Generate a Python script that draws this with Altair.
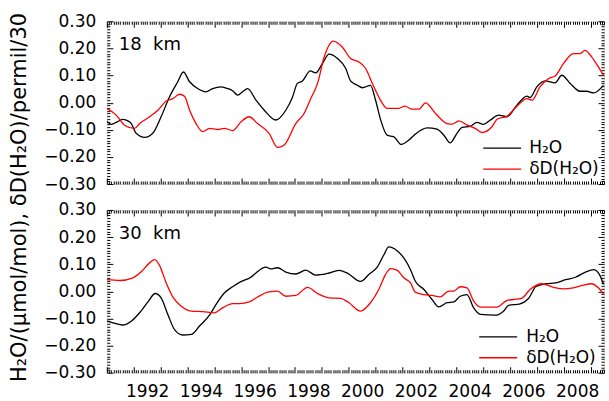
import altair as alt
import pandas as pd

# ---------------- data ----------------
# 18 km panel
yr18_h2o = [1990.50, 1990.67, 1990.90, 1991.10, 1991.30, 1991.41, 1991.59, 1991.91, 1992.21, 1992.52,
            1992.83, 1993.14, 1993.35, 1993.58, 1993.88, 1994.19, 1994.44, 1994.75, 1995.00, 1995.18,
            1995.37, 1995.55, 1995.74, 1996.05, 1996.36, 1996.79, 1997.16, 1997.41, 1997.59, 1997.78,
            1998.07, 1998.27, 1998.52, 1998.77, 1999.08, 1999.39, 1999.57, 1999.82, 2000.01, 2000.31,
            2000.50, 2000.69, 2000.93, 2001.18, 2001.46, 2001.74, 2001.98, 2002.42, 2002.79, 2003.04,
            2003.28, 2003.53, 2003.72, 2004.02, 2004.27, 2004.52, 2004.77, 2005.08, 2005.39, 2005.76,
            2006.13, 2006.25, 2006.50, 2006.81, 2007.18, 2007.43, 2007.74, 2008.11, 2008.36, 2008.61,
            2008.98]
h2o_18 = [-0.068, -0.080, -0.070, -0.062, -0.068, -0.077, -0.113, -0.128, -0.113, -0.052,
          0.021, 0.077, 0.113, 0.077, 0.052, 0.040, 0.052, 0.058, 0.052, 0.044,
          0.028, 0.040, 0.052, 0.009, -0.028, -0.064, -0.028, 0.021, 0.071, 0.080,
          0.117, 0.110, 0.144, 0.179, 0.163, 0.126, 0.080, 0.064, 0.055, 0.064,
          0.009, -0.064, -0.120, -0.126, -0.154, -0.138, -0.116, -0.093, -0.098, -0.120,
          -0.148, -0.113, -0.091, -0.087, -0.073, -0.080, -0.064, -0.046, -0.052, -0.009,
          0.024, 0.019, 0.058, 0.080, 0.073, 0.101, 0.071, 0.042, 0.042, 0.036,
          0.064]
yr18_dd = [1990.50, 1990.85, 1991.16, 1991.53, 1991.72, 1992.09, 1992.40, 1992.71, 1992.96, 1993.20,
           1993.39, 1993.58, 1993.82, 1994.07, 1994.32, 1994.63, 1994.87, 1995.18, 1995.49, 1995.80,
           1996.11, 1996.54, 1996.85, 1997.10, 1997.53, 1997.84, 1998.09, 1998.34, 1998.59, 1998.93,
           1999.26, 1999.57, 1999.88, 2000.13, 2000.38, 2000.62, 2000.93, 2001.37, 2001.59, 2001.86,
           2002.11, 2002.36, 2002.73, 2003.16, 2003.35, 2003.60, 2003.91, 2004.21, 2004.46, 2004.83,
           2005.02, 2005.39, 2005.76, 2006.13, 2006.32, 2006.62, 2006.94, 2007.18, 2007.49, 2007.86,
           2008.11, 2008.29, 2008.54, 2008.79, 2008.98]
dd_18 = [-0.021, -0.046, -0.083, -0.095, -0.077, -0.052, -0.028, 0.006, 0.015, 0.031,
         0.024, -0.028, -0.077, -0.107, -0.095, -0.099, -0.095, -0.103, -0.071, -0.052,
         -0.077, -0.113, -0.165, -0.156, -0.077, -0.040, 0.015, 0.071, 0.169, 0.227,
         0.205, 0.163, 0.150, 0.126, 0.071, 0.021, -0.021, -0.021, -0.013, -0.024,
         -0.024, -0.001, -0.040, -0.077, -0.079, -0.067, -0.083, -0.095, -0.110, -0.089,
         -0.061, -0.050, -0.013, 0.015, 0.009, 0.058, 0.089, 0.098, 0.144, 0.181,
         0.181, 0.193, 0.169, 0.132, 0.101]

# 30 km panel
yr30_h2o = [1990.50, 1990.73, 1991.10, 1991.41, 1991.72, 1992.03, 1992.30, 1992.52, 1992.77, 1993.02,
            1993.33, 1993.64, 1993.95, 1994.32, 1994.56, 1994.87, 1995.18, 1995.49, 1995.86, 1996.05,
            1996.42, 1996.60, 1996.85, 1997.16, 1997.53, 1997.90, 1998.27, 1998.71, 1999.14, 1999.45,
            1999.94, 2000.25, 2000.56, 2000.81, 2000.99, 2001.30, 2001.55, 2001.80, 2001.98, 2002.30,
            2002.60, 2002.85, 2003.16, 2003.41, 2003.65, 2003.90, 2004.15, 2004.40, 2004.95, 2005.26,
            2005.45, 2005.88, 2006.21, 2006.46, 2006.83, 2007.20, 2007.57, 2007.94, 2008.31, 2008.62,
            2008.86, 2008.98]
h2o_30 = [-0.110, -0.116, -0.124, -0.110, -0.079, -0.039, -0.008, -0.024, -0.085, -0.141,
          -0.161, -0.159, -0.128, -0.088, -0.049, -0.006, 0.017, 0.036, 0.052, 0.068,
          0.089, 0.083, 0.087, 0.071, 0.064, 0.078, 0.060, 0.066, 0.077, 0.067,
          0.037, 0.062, 0.089, 0.135, 0.164, 0.150, 0.123, 0.080, 0.037, 0.007,
          -0.030, -0.057, -0.042, -0.039, -0.018, -0.012, -0.061, -0.085, -0.088, -0.073,
          -0.052, -0.046, -0.024, 0.017, 0.028, 0.031, 0.043, 0.052, 0.071, 0.080,
          0.056, 0.025]
yr30_dd = [1990.50, 1990.98, 1991.47, 1991.78, 1992.09, 1992.28, 1992.46, 1992.71, 1992.96, 1993.26,
           1993.64, 1994.07, 1994.50, 1994.81, 1995.18, 1995.43, 1995.80, 1996.11, 1996.48, 1996.85,
           1997.16, 1997.53, 1997.97, 1998.34, 1998.77, 1999.20, 1999.51, 1999.94, 2000.31, 2000.62,
           2000.87, 2001.06, 2001.30, 2001.55, 2001.80, 2001.98, 2002.30, 2002.60, 2002.91, 2003.22,
           2003.41, 2003.65, 2003.90, 2004.15, 2004.40, 2004.64, 2005.01, 2005.38, 2005.63, 2005.93,
           2006.25, 2006.68, 2007.12, 2007.49, 2007.86, 2008.23, 2008.54, 2008.79, 2008.98]
dd_30 = [0.043, 0.040, 0.050, 0.072, 0.105, 0.117, 0.096, 0.031, -0.021, -0.054,
         -0.073, -0.075, -0.079, -0.061, -0.045, -0.045, -0.039, -0.021, -0.003, 0.001,
         -0.018, -0.015, 0.015, -0.008, -0.024, -0.026, -0.042, -0.073, -0.042, 0.007,
         0.062, 0.084, 0.078, 0.050, 0.031, -0.003, -0.012, -0.015, -0.020, 0.001,
         0.001, 0.017, 0.013, -0.036, -0.058, -0.058, -0.058, -0.034, -0.030, -0.026,
         0.007, 0.028, 0.015, 0.009, 0.013, 0.023, 0.028, 0.013, -0.009]

SERIES = ["H\u2082O", "\u03b4D(H\u2082O)"]
COLORS = ["#000000", "#ff0000"]
PANEL_LABELS = ["18\u00a0\u00a0km", "30\u00a0\u00a0km"]
YEAR_LABELS = [1992, 1994, 1996, 1998, 2000, 2002, 2004, 2006, 2008]
Y_LABELS = [-0.3, -0.2, -0.1, 0.0, 0.1, 0.2, 0.3]
Y_TITLE = "H\u2082O/(\u03bcmol/mol), \u03b4D(H\u2082O)/permil/30"
X_DOMAIN = [1990.5, 2009.0]
Y_DOMAIN = [-0.3, 0.3]

# ---------------- layout / style ----------------
FONT = "DejaVu Sans"
W, H = 498, 163

x_major = [round(X_DOMAIN[0] + k, 3) for k in range(0, 19)]
x_minor = [round(X_DOMAIN[0] + k / 12.0, 5) for k in range(0, 223) if k % 12 != 0]
y_major = [round(-0.3 + k * 0.1, 3) for k in range(7)]
y_minor = [round(-0.3 + k * 0.01, 3) for k in range(61) if k % 10 != 0]

xscale = alt.Scale(domain=X_DOMAIN, nice=False, zero=False)
yscale = alt.Scale(domain=Y_DOMAIN, nice=False, zero=False)


def tick_axis_x(orient, values, size):
    return alt.Axis(orient=orient, offset=-H, values=values, labels=False, domain=False, grid=False,
                    title=None, ticks=True, tickSize=size, tickColor="black", tickWidth=1)


def tick_axis_y(orient, values, size):
    return alt.Axis(orient=orient, offset=-W, values=values, labels=False, domain=False, grid=False,
                    title=None, ticks=True, tickSize=size, tickColor="black", tickWidth=1)


def make_df(ya, va, yb, vb):
    return pd.DataFrame({
        "year": ya + yb,
        "value": va + vb,
        "series": [SERIES[0]] * len(ya) + [SERIES[1]] * len(yb),
    })


def panel(df, label, first, legend_x, legend_y, label_offset):
    base = alt.Chart(df)
    y_common = dict(values=Y_LABELS, format=".2f", ticks=False, domain=False, grid=False,
                    labelFont=FONT, labelFontSize=17, labelColor="black", labelPadding=11,
                    labelFlush=False)
    if first:
        x_axis = None
        y_axis = alt.Axis(**y_common, title=Y_TITLE, titleFont=FONT, titleFontSize=21,
                          titleFontWeight="normal", titleColor="black", titleAngle=270,
                          titleX=-81, titleY=176, titleAlign="center", titleBaseline="alphabetic")
    else:
        x_axis = alt.Axis(values=YEAR_LABELS, format="d", ticks=False, domain=False, grid=False,
                          labelFont=FONT, labelFontSize=17, labelColor="black", labelPadding=24,
                          labelBaseline="alphabetic", labelFlush=False, title=None)
        y_axis = alt.Axis(**y_common, title=None)
    lines = base.mark_line(strokeWidth=1.3, interpolate="monotone", clip=True).encode(
        x=alt.X("year:Q", scale=xscale, axis=x_axis),
        y=alt.Y("value:Q", scale=yscale, axis=y_axis),
        color=alt.Color("series:N", scale=alt.Scale(domain=SERIES, range=COLORS),
                        legend=alt.Legend(title=None, orient="none", legendX=legend_x, legendY=legend_y,
                                          symbolType="M-1.9,0H1.9", symbolSize=400,
                                          symbolStrokeWidth=1.3, labelFont=FONT, labelFontSize=17,
                                          labelColor="black", labelOffset=label_offset,
                                          rowPadding=2, padding=0)),
    )
    tick_layers = []
    for xv, yv, size in ((x_major, y_major, 6), (x_minor, y_minor, 3)):
        tick_layers.append(base.mark_point(opacity=0).encode(
            x=alt.X("year:Q", scale=xscale, axis=tick_axis_x("top", xv, size)),
            y=alt.Y("value:Q", scale=yscale, axis=tick_axis_y("right", yv, size)),
        ))
        tick_layers.append(base.mark_point(opacity=0).encode(
            x=alt.X("year:Q", scale=xscale, axis=tick_axis_x("bottom", xv, size)),
            y=alt.Y("value:Q", scale=yscale, axis=tick_axis_y("left", yv, size)),
        ))
    txt = alt.Chart(pd.DataFrame({"label": [label]})).mark_text(
        align="left", baseline="alphabetic", font=FONT, fontSize=18, color="black"
    ).encode(text="label:N", x=alt.value(12), y=alt.value(29))
    return alt.layer(lines, *tick_layers, txt).resolve_axis(
        x="independent", y="independent").properties(width=W, height=H)


top = panel(make_df(yr18_h2o, h2o_18, yr18_dd, dd_18), PANEL_LABELS[0], True, 385, 116, 16)
bottom = panel(make_df(yr30_h2o, h2o_30, yr30_dd, dd_30), PANEL_LABELS[1], False, 381, 116, 17)

chart = alt.vconcat(top, bottom, spacing=26, bounds="flush").resolve_scale(
    color="independent").properties(
    padding={"left": 8, "top": 11, "right": 2, "bottom": 0}
).configure_view(stroke="black", strokeWidth=1).configure(background="white")

chart.save("out.html", embed_options={"renderer": "svg", "actions": False})
